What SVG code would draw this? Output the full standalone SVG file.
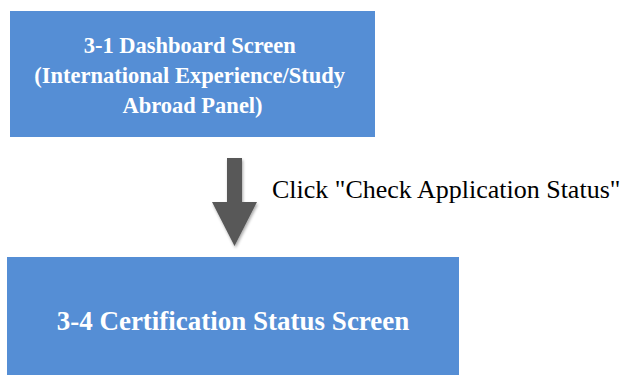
<svg xmlns="http://www.w3.org/2000/svg" width="631" height="375" viewBox="0 0 631 375">
  <style>
    .box { fill: #558ED5; }
    .title { font-family: "Liberation Serif", "Times New Roman", serif; font-weight: bold; fill: #FFFFFF; text-anchor: middle; }
    .label { font-family: "Liberation Serif", "Times New Roman", serif; fill: #000000; font-size: 26px; }
    .arrow { fill: #595959; }
  </style>
  <defs>
    <filter id="shadow" x="-30%" y="-30%" width="160%" height="160%">
      <feGaussianBlur in="SourceAlpha" stdDeviation="1.5"/>
      <feOffset dx="1" dy="1.5" result="b"/>
      <feComponentTransfer><feFuncA type="linear" slope="0.35"/></feComponentTransfer>
      <feMerge><feMergeNode/><feMergeNode in="SourceGraphic"/></feMerge>
    </filter>
  </defs>
  <rect width="631" height="375" fill="#FFFFFF"/>
  <g id="node-dashboard">
    <rect class="box" x="10" y="11" width="365" height="126"/>
    <text class="title" font-size="22.5">
      <tspan x="192.5" y="53">3-1 Dashboard Screen</tspan>
      <tspan x="192.5" y="83">(International Experience/Study</tspan>
      <tspan x="192.5" y="113">Abroad Panel)</tspan>
    </text>
  </g>
  <g id="node-certification">
    <rect class="box" x="7" y="257" width="452" height="118"/>
    <text class="title" font-size="27" x="233" y="330">3-4 Certification Status Screen</text>
  </g>
  <g id="connectors">
    <polygon class="arrow" filter="url(#shadow)" points="227,158 242,158 242,202 257,202 234.5,246 212,202 227,202"/>
    <text class="label" x="272" y="198">Click "Check Application Status"</text>
  </g>
</svg>
